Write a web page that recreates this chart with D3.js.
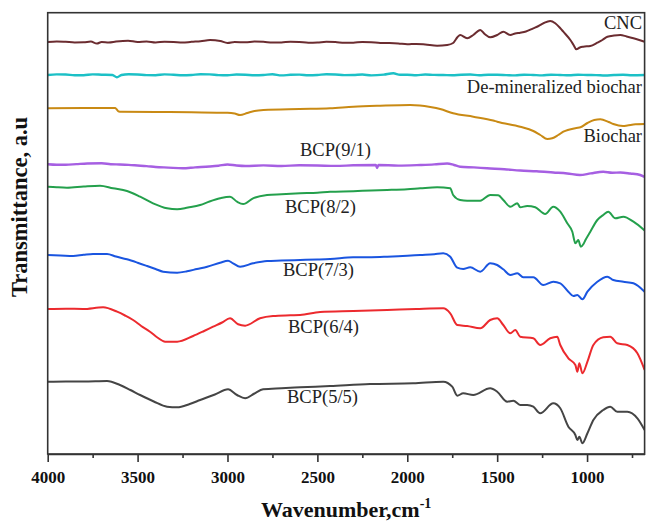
<!DOCTYPE html>
<html><head><meta charset="utf-8">
<script src="https://cdn.jsdelivr.net/npm/d3@7/dist/d3.min.js"></script>
<style>body{margin:0;background:#fff}</style></head>
<body>
<svg id="chart" width="646" height="524"></svg>
<script>
// ---- data: [wavenumber (cm-1), transmittance (a.u., offset spectra)] ----
const xTickValues = [4000, 3500, 3000, 2500, 2000, 1500, 1000];
const xMinorTicks = [3750, 3250, 2750, 2250, 1750, 1250, 750];
const seriesNames = ["CNC", "De-mineralized biochar", "Biochar", "BCP(9/1)", "BCP(8/2)", "BCP(7/3)", "BCP(6/4)", "BCP(5/5)"];

const cnc = [[4000,412],[3950,412.6],[3900,412.2],[3850,411.6],[3800,411.7],[3760,412.4],[3726,410.5],[3700,412],[3660,411.6],[3620,412.5],[3553,413.3],[3500,412],[3450,412.5],[3400,411.5],[3350,412.3],[3300,412],[3250,411.4],[3200,412.2],[3150,412.8],[3097,414],[3040,413],[3000,411],[2960,412],[2900,411.7],[2850,412.4],[2800,412.2],[2750,411.4],[2700,411.5],[2650,412.3],[2600,412],[2550,411.3],[2500,411.5],[2450,412.2],[2400,412],[2350,411.2],[2300,411.3],[2250,412],[2200,411.7],[2150,411.1],[2100,411],[2050,410.6],[2000,409.7],[1950,410.1],[1900,409.5],[1834,408.3],[1778,409],[1745,411],[1720,417],[1706,419],[1667,415.7],[1633,419],[1594,424],[1570,420],[1539,416.7],[1500,419],[1466,422.3],[1427,419],[1400,420.5],[1372,421.3],[1340,422.5],[1299,425.7],[1270,428],[1240,431],[1205,433],[1177,430.7],[1150,426],[1132,422.3],[1093,414],[1075,409],[1060,404.7],[1040,406.5],[1021,407.3],[982,408],[943,411.3],[915,414],[887,417.3],[850,418.5],[815,419],[780,417.5],[742,415.7],[710,414],[680,412.3]];

const demineralized = [[4000,379],[3950,379.6],[3900,379.5],[3850,378.8],[3800,378.8],[3750,379.6],[3700,379.3],[3640,379],[3615,376.7],[3590,379],[3550,379.8],[3500,379.5],[3450,378.9],[3400,378.8],[3350,379.6],[3300,379.2],[3250,378.7],[3200,379],[3150,379.7],[3100,379.6],[3050,378.9],[3000,378.7],[2950,379.5],[2900,379.3],[2850,378.8],[2800,379],[2750,379.7],[2700,378.6],[2650,379.2],[2600,379.4],[2550,378.7],[2500,379],[2450,379.8],[2400,379.5],[2350,378.9],[2300,379],[2250,379.5],[2200,378.6],[2130,379.4],[2078,380.7],[2040,379.2],[2000,379.3],[1950,378.8],[1900,379.5],[1850,379.1],[1800,379],[1750,378.7],[1700,379.3],[1650,379.5],[1600,378.8],[1550,379.2],[1500,379.2],[1450,378.9],[1400,378.6],[1350,379.3],[1300,379],[1250,378.6],[1200,379.3],[1150,379],[1100,378.7],[1050,379.3],[1000,379],[950,378.9],[900,378.5],[850,379],[800,379.3],[750,378.8],[680,379]];

const biochar = [[4000,345.7],[3800,346],[3625,346],[3618,345],[3605,342.5],[3590,342.3],[3400,342],[3200,341.7],[3000,341.3],[2960,340.5],[2930,339],[2890,341],[2850,343],[2800,344],[2600,345],[2430,345.7],[2300,347.3],[2150,348.3],[1984,349],[1930,348.5],[1872,347],[1817,345],[1745,340.7],[1633,337.3],[1522,333.5],[1500,332.3],[1372,327.3],[1299,323],[1260,319],[1221,315],[1194,315.7],[1160,319],[1132,322.3],[1060,326],[1037,326.7],[998,331],[960,334],[926,334.7],[880,332],[854,330],[800,328],[776,328.5],[731,329.7],[680,330]];

const bcp91 = [[4000,289.7],[3950,289.2],[3900,289.3],[3840,289.9],[3780,290.5],[3700,290.7],[3650,289.8],[3600,289.5],[3550,289.1],[3500,288.5],[3450,287.9],[3400,287],[3330,286.4],[3250,285.7],[3180,286.6],[3100,287.5],[3050,288.3],[3000,289.5],[2950,288.5],[2900,288],[2800,288.6],[2700,288],[2600,288.7],[2500,288.5],[2400,288.1],[2300,288.7],[2175,289],[2168,286],[2160,289],[2050,288.4],[1928,289],[1850,289.6],[1778,290.5],[1740,289],[1706,287.3],[1630,286.6],[1556,285.7],[1460,284.8],[1372,283.5],[1280,282.7],[1188,281.5],[1110,280.5],[1040,279],[980,280.6],[910,282.3],[860,281.3],[815,281.5],[760,280.5],[704,279],[680,277]];

const bcp82 = [[4000,267.3],[3950,266.7],[3893,266.3],[3800,267.5],[3709,268.3],[3637,265.7],[3559,263],[3486,257.3],[3414,250.7],[3336,245.7],[3280,244.7],[3220,246.5],[3152,249],[3100,252.5],[3041,255.7],[2986,257.3],[2947,252.3],[2913,250],[2858,255.7],[2780,259],[2700,259.8],[2596,260.7],[2500,261.3],[2429,262.3],[2300,262.8],[2200,263.5],[2112,264],[2000,264.8],[1928,265.7],[1834,266.7],[1761,265.7],[1745,259],[1706,254],[1667,253.3],[1594,253.3],[1539,259],[1494,258.7],[1466,254],[1427,247.3],[1388,250.7],[1372,246.7],[1333,248],[1288,246.7],[1233,240],[1188,247.3],[1149,242.3],[1110,230.7],[1082,222.3],[1065,210.7],[1049,214],[1035,207.3],[1020,210],[1009,214],[982,222.3],[943,234],[910,239],[882,242.3],[843,235.7],[798,237.3],[742,232.3],[680,223.5]];

const bcp73 = [[4000,199],[3930,198.6],[3859,198],[3800,199.2],[3748,200],[3670,200],[3620,197.5],[3559,194.7],[3500,191.3],[3447,188],[3400,185],[3358,182.3],[3280,181.3],[3225,182.7],[3170,185],[3113,187.3],[3041,191.3],[2997,193.3],[2969,190.7],[2930,187.3],[2858,190.7],[2780,193],[2700,193.4],[2596,194],[2500,194.5],[2429,195],[2301,196.7],[2200,196.8],[2112,197.3],[2000,198.2],[1928,199],[1850,199.8],[1800,200.7],[1761,197.3],[1722,186.3],[1689,185],[1650,186.7],[1594,182.3],[1539,190.7],[1500,189],[1466,184.7],[1427,179],[1388,180.7],[1355,176.7],[1299,176.7],[1244,169],[1188,172.3],[1149,170.7],[1104,162.3],[1076,158],[1054,159],[1026,154.7],[998,162.3],[943,172.3],[887,177.3],[854,174],[798,172.3],[742,170.7],[680,162.3]];

const bcp64 = [[4000,145],[3900,145.3],[3804,145],[3692,146.7],[3614,142.3],[3570,138.5],[3525,134],[3480,128],[3431,122.3],[3390,116.5],[3347,112.3],[3280,112.3],[3191,118],[3130,123],[3080,127.3],[3030,131.5],[2986,135.7],[2941,129.7],[2902,128.3],[2819,135.7],[2747,138],[2650,138.7],[2596,139],[2485,142],[2300,143],[2112,144],[1950,145],[1800,145.7],[1761,140.7],[1722,129],[1667,128],[1594,125.7],[1539,134],[1500,135.7],[1466,129],[1427,120.7],[1399,124],[1372,117.3],[1299,115.7],[1261,109],[1205,115.7],[1166,117.3],[1149,109],[1104,95.7],[1065,89],[1054,82.3],[1043,90.7],[1026,80.7],[998,92.3],[965,109],[910,116.7],[871,117.3],[832,110.7],[776,109],[720,100.7],[680,84]];

const bcp55 = [[4000,72.3],[3900,72.6],[3800,72.5],[3670,73],[3598,69],[3540,64],[3486,59],[3410,52.5],[3336,47.3],[3280,46.7],[3210,50],[3152,54],[3070,59.5],[2997,64.7],[2947,59],[2902,55.7],[2850,60.5],[2802,64.7],[2700,65.8],[2596,66.7],[2429,68],[2207,70],[1967,70.7],[1800,72.3],[1750,67.3],[1722,58.3],[1689,60.7],[1633,59],[1539,65.7],[1500,62.3],[1444,52.3],[1410,53.3],[1372,49],[1333,49],[1299,47.3],[1261,40.7],[1188,50.7],[1149,45.7],[1104,27.3],[1065,19],[1054,14],[1043,17.3],[1026,10.7],[998,20.7],[965,34],[910,44],[871,47.3],[832,42.3],[776,42.3],[720,35.7],[680,24]];

const seriesData = [cnc, demineralized, biochar, bcp91, bcp82, bcp73, bcp64, bcp55];
const seriesColors = ["#6b2c30", "#1cc0c6", "#c98a14", "#a65fe2", "#24a04c", "#1a55e0", "#ec2a2e", "#454545"];
// label anchor config (pixels, text-anchor)
const labelConfig = [
  {x: 642, y: 28.5, anchor: "end"},
  {x: 642, y: 93, anchor: "end"},
  {x: 642, y: 142, anchor: "end"},
  {x: 300, y: 156, anchor: "start"},
  {x: 285, y: 212.5, anchor: "start"},
  {x: 283, y: 276, anchor: "start"},
  {x: 288, y: 333, anchor: "start"},
  {x: 287, y: 403, anchor: "start"}
];

(function () {
  const mLeft = 47.7, mRight = 644.6, mTop = 12.7, mBottom = 454;
  const svg = d3.select("#chart");
  const x = d3.scaleLinear().domain([4000, 680]).range([mLeft, mRight]);
  const y = d3.scaleLinear().domain([0, 441.3]).range([mBottom, mTop]);
  const serif = "'Liberation Serif','Times New Roman',serif";

  svg.append("clipPath").attr("id","clip").append("rect")
    .attr("x", mLeft).attr("y", mTop).attr("width", mRight-mLeft).attr("height", mBottom-mTop);

  const line = d3.line().x(d => x(d[0])).y(d => y(d[1])).curve(d3.curveMonotoneX);

  const g = svg.append("g").attr("clip-path","url(#clip)");
  seriesData.forEach((s, i) => {
    g.append("path").datum(s).attr("d", line)
      .attr("fill","none").attr("stroke", seriesColors[i])
      .attr("stroke-width", (i === 1 || i === 3) ? 2.4 : 2).attr("stroke-linejoin","round");
  });

  svg.append("rect").attr("x", mLeft).attr("y", mTop).attr("width", mRight-mLeft).attr("height", mBottom-mTop)
    .attr("fill","none").attr("stroke","#333").attr("stroke-width",1.6);

  seriesNames.forEach((n, i) => {
    svg.append("text").attr("x", labelConfig[i].x).attr("y", labelConfig[i].y)
      .attr("text-anchor", labelConfig[i].anchor)
      .style("font-family", serif).style("font-size", "18.5px").attr("fill", "#222")
      .text(n);
  });

  const xAxis = svg.append("g").attr("transform", `translate(0,${mBottom})`)
    .call(d3.axisBottom(x).tickValues(xTickValues).tickSize(8).tickSizeOuter(0).tickFormat(d3.format("d")));
  xAxis.attr("font-family", null).attr("font-size", null);
  xAxis.select(".domain").attr("stroke","#333").attr("stroke-width",1.6);
  xAxis.selectAll(".tick line").attr("stroke","#333").attr("stroke-width",1.6);
  xAxis.selectAll(".tick text").style("font-family", serif).style("font-weight","bold")
    .style("font-size", "17px").attr("fill","#111").attr("dy", 0).attr("y", 29);
  const xMinor = svg.append("g").attr("transform", `translate(0,${mBottom})`)
    .call(d3.axisBottom(x).tickValues(xMinorTicks).tickSize(4).tickSizeOuter(0).tickFormat(""));
  xMinor.select(".domain").remove();
  xMinor.selectAll(".tick line").attr("stroke","#333").attr("stroke-width",1.6);

  const xt = svg.append("text").attr("x", (mLeft+mRight)/2).attr("y", 517).attr("text-anchor","middle")
    .style("font-family", serif).style("font-weight","bold").style("font-size", "22px").attr("fill","#111");
  xt.append("tspan").text("Wavenumber,cm");
  xt.append("tspan").style("font-size", "14px").attr("dy", -9).text("-1");

  svg.append("text").attr("transform", `translate(27,207) rotate(-90)`).attr("text-anchor","middle")
    .style("font-family", serif).style("font-weight","bold").style("font-size", "22.5px").attr("fill","#111")
    .text("Transmittance, a.u");
})();
</script>
</body></html>
